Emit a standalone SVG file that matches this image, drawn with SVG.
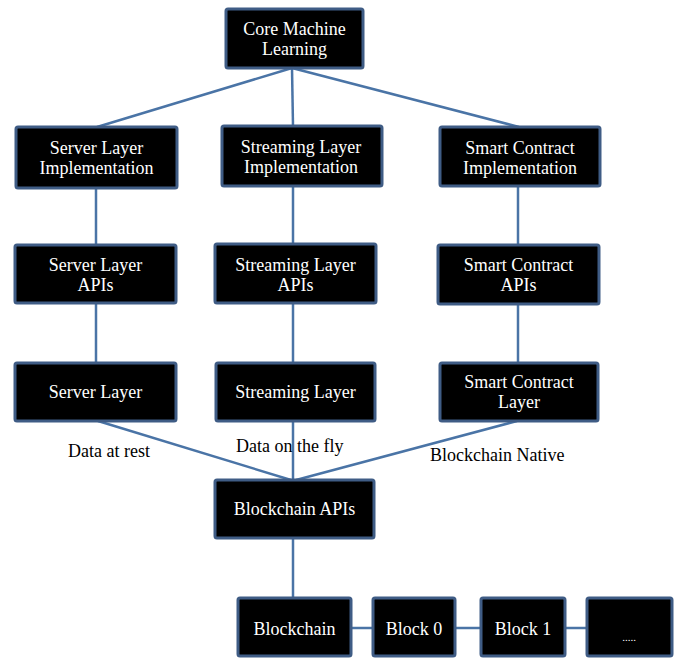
<svg xmlns="http://www.w3.org/2000/svg" width="678" height="658" viewBox="0 0 678 658">
<style>
.box{fill:#000;stroke:#3f5c85;stroke-width:3;}
.t{fill:#fff;font-family:"Liberation Serif","Times New Roman",serif;font-size:18px;text-anchor:middle;}
.lbl{fill:#000;font-family:"Liberation Serif","Times New Roman",serif;font-size:18px;text-anchor:start;}
.c{stroke:#4a74a6;stroke-width:2.5;fill:none;}
</style>
<rect width="678" height="658" fill="#fff"/>
<g id="connectors">
<line class="c" x1="292" y1="68" x2="97" y2="127"/>
<line class="c" x1="292" y1="68" x2="293" y2="126"/>
<line class="c" x1="292" y1="68" x2="519" y2="127"/>
<line class="c" x1="96" y1="188" x2="96" y2="245"/>
<line class="c" x1="293" y1="186" x2="293" y2="244"/>
<line class="c" x1="518" y1="186" x2="518" y2="245"/>
<line class="c" x1="96" y1="303" x2="96" y2="363"/>
<line class="c" x1="293" y1="303" x2="293" y2="363"/>
<line class="c" x1="518" y1="304" x2="518" y2="363"/>
<line class="c" x1="98" y1="421" x2="291" y2="480"/>
<line class="c" x1="293" y1="421" x2="293" y2="480"/>
<line class="c" x1="517" y1="421" x2="296" y2="480"/>
<line class="c" x1="293" y1="538" x2="293" y2="598"/>
<line class="c" x1="351" y1="628" x2="373" y2="628"/>
<line class="c" x1="455" y1="628" x2="481" y2="628"/>
<line class="c" x1="565" y1="628" x2="587" y2="628"/>
</g>
<g id="core"><rect class="box" x="226" y="9" width="137" height="59" rx="2"/><text class="t" x="294.5" y="35">Core Machine</text><text class="t" x="294.5" y="55">Learning</text></g>
<g id="server-impl"><rect class="box" x="16" y="127" width="161" height="61" rx="2"/><text class="t" x="96.5" y="154">Server Layer</text><text class="t" x="96.5" y="174">Implementation</text></g>
<g id="streaming-impl"><rect class="box" x="222" y="126" width="160" height="60" rx="2"/><text class="t" x="301" y="153">Streaming Layer</text><text class="t" x="301" y="173">Implementation</text></g>
<g id="smart-impl"><rect class="box" x="440" y="127" width="160" height="59" rx="2"/><text class="t" x="520" y="154">Smart Contract</text><text class="t" x="520" y="174">Implementation</text></g>
<g id="server-apis"><rect class="box" x="15" y="245" width="161" height="58" rx="2"/><text class="t" x="95.5" y="271">Server Layer</text><text class="t" x="95.5" y="291">APIs</text></g>
<g id="streaming-apis"><rect class="box" x="215" y="244" width="161" height="59" rx="2"/><text class="t" x="295.5" y="271">Streaming Layer</text><text class="t" x="295.5" y="291">APIs</text></g>
<g id="smart-apis"><rect class="box" x="438" y="245" width="161" height="59" rx="2"/><text class="t" x="518.5" y="271">Smart Contract</text><text class="t" x="518.5" y="291">APIs</text></g>
<g id="server-layer"><rect class="box" x="15" y="363" width="161" height="58" rx="2"/><text class="t" x="95.5" y="398">Server Layer</text></g>
<g id="streaming-layer"><rect class="box" x="216" y="363" width="159" height="58" rx="2"/><text class="t" x="295.5" y="398">Streaming Layer</text></g>
<g id="smart-layer"><rect class="box" x="440" y="363" width="158" height="58" rx="2"/><text class="t" x="519" y="388">Smart Contract</text><text class="t" x="519" y="408">Layer</text></g>
<g id="labels">
<text class="lbl" x="68" y="457">Data at rest</text>
<text class="lbl" x="236" y="452">Data on the fly</text>
<text class="lbl" x="430" y="461">Blockchain Native</text>
</g>
<g id="blockchain-apis"><rect class="box" x="215" y="480" width="159" height="58" rx="2"/><text class="t" x="294.5" y="515">Blockchain APIs</text></g>
<g id="blockchain"><rect class="box" x="238" y="598" width="113" height="58" rx="2"/><text class="t" x="294.5" y="635">Blockchain</text></g>
<g id="block0"><rect class="box" x="373" y="598" width="82" height="58" rx="2"/><text class="t" x="414" y="635">Block 0</text></g>
<g id="block1"><rect class="box" x="481" y="598" width="84" height="58" rx="2"/><text class="t" x="523" y="635">Block 1</text></g>
<g id="more"><rect class="box" x="587" y="598" width="85" height="58" rx="2"/><text class="t" x="629" y="641" style="font-size:11px">.....</text></g>
</svg>
